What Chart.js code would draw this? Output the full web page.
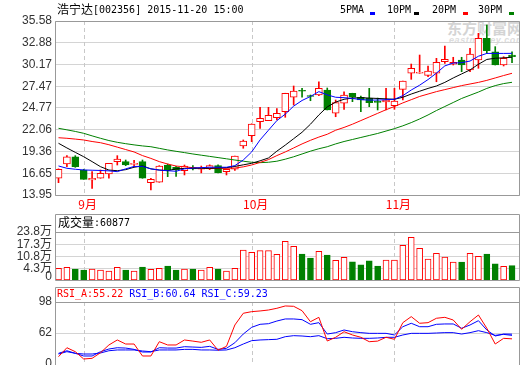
<!DOCTYPE html>
<html><head><meta charset="utf-8">
<script src="https://cdn.jsdelivr.net/npm/chart.js@4/dist/chart.umd.min.js"></script>
<style>
html,body{margin:0;padding:0;background:#fff;}
#wrap{position:relative;width:520px;height:365px;overflow:hidden;background:#fff;}
canvas{position:absolute;left:0;}
.t{position:absolute;white-space:pre;line-height:14px;}
.mono{font-family:'DejaVu Sans Mono',monospace;font-size:10px;}
.cjk{font-family:'Noto Sans CJK SC',sans-serif;font-size:12px;}
.sw{position:absolute;width:5px;height:3px;top:12px;}
</style></head>
<body><div id="wrap">
<div class="t" style="left:447px;top:20px;font:bold 15px 'Noto Sans CJK SC';line-height:15px;color:#d4d4d4;">东方财富网</div>
<div class="t" style="left:449px;top:35px;font:italic bold 9px 'Liberation Sans';line-height:10px;color:#dcdcdc;letter-spacing:0.6px;">eastmoney.com</div>
<canvas id="cMain" width="520" height="212" style="top:0"></canvas>
<canvas id="cVol" width="520" height="100" style="top:200px"></canvas>
<canvas id="cRsi" width="520" height="100" style="top:283px"></canvas>
<div class="t cjk" style="left:57px;top:2px;">浩宁达</div>
<div class="t mono" style="left:93px;top:3px;">[002356] 2015-11-20 15:00</div>
<div class="t mono" style="left:340px;top:3px;">5PMA</div><div class="sw" style="left:370px;background:#0000ff"></div>
<div class="t mono" style="left:387px;top:3px;">10PM</div><div class="sw" style="left:414px;background:#000000"></div>
<div class="t mono" style="left:432px;top:3px;">20PM</div><div class="sw" style="left:463px;background:#ff0000"></div>
<div class="t mono" style="left:478px;top:3px;">30PM</div><div class="sw" style="left:509px;background:#008000"></div>
<div class="t cjk" style="left:58px;top:215px;">成交量</div>
<div id="volHead" class="t mono" style="left:94px;top:216px;"></div>
<div id="rsiHead" class="t mono" style="left:57px;top:287px;"></div>
</div>
<script>
// ---------- data ----------
const dates = ["2015-08-27","2015-08-28","2015-08-31","2015-09-01","2015-09-02","2015-09-07","2015-09-08","2015-09-09","2015-09-10","2015-09-11","2015-09-14","2015-09-15","2015-09-16","2015-09-17","2015-09-18","2015-09-21","2015-09-22","2015-09-23","2015-09-24","2015-09-25","2015-09-28","2015-09-29","2015-09-30","2015-10-08","2015-10-09","2015-10-12","2015-10-13","2015-10-14","2015-10-15","2015-10-16","2015-10-19","2015-10-20","2015-10-21","2015-10-22","2015-10-23","2015-10-26","2015-10-27","2015-10-28","2015-10-29","2015-10-30","2015-11-02","2015-11-03","2015-11-04","2015-11-05","2015-11-06","2015-11-09","2015-11-10","2015-11-11","2015-11-12","2015-11-13","2015-11-16","2015-11-17","2015-11-18","2015-11-19","2015-11-20"];
const opens  = [16.03,17.80,18.71,17.06,15.81,16.03,16.56,18.09,18.09,17.75,18.09,15.48,15.53,17.68,17.40,16.97,17.35,17.15,17.18,17.60,16.85,17.15,20.04,21.32,23.06,23.19,23.56,24.31,26.10,26.95,26.30,26.38,27.00,24.11,25.35,26.59,26.10,25.97,25.60,25.51,25.05,27.09,29.08,29.08,28.83,29.08,30.52,30.20,30.73,29.49,30.73,33.43,31.76,30.11,31.35];
const closes = [17.15,18.71,17.47,15.90,16.03,16.65,17.89,18.42,17.68,17.85,16.03,15.90,17.56,17.06,17.10,17.56,17.20,17.30,17.60,16.72,17.15,18.80,20.66,22.78,23.49,23.86,24.11,26.59,26.88,26.85,26.20,27.21,24.52,25.43,26.38,26.10,25.76,25.43,25.45,25.76,25.64,28.12,29.70,29.20,29.36,30.45,30.82,30.45,30.11,31.48,33.43,31.89,30.11,30.94,31.14];
const highs  = [17.20,18.84,18.84,17.15,16.85,17.06,17.89,18.84,18.30,18.25,18.30,16.03,17.60,17.80,17.50,17.68,17.60,17.55,17.70,17.70,17.20,18.80,20.79,22.80,24.85,24.85,24.68,26.60,27.50,27.21,26.38,28.03,27.25,25.76,26.79,26.60,26.26,27.21,26.00,27.21,27.21,28.12,30.23,31.35,29.99,30.94,32.47,31.07,31.07,32.19,34.05,35.08,32.39,31.14,31.76];
const lows   = [15.48,17.47,17.39,15.90,14.78,16.03,16.03,17.68,17.59,17.45,16.03,14.57,15.53,16.23,16.25,16.44,17.06,16.70,17.10,16.70,16.44,17.00,19.76,20.58,22.24,23.19,23.27,23.61,25.14,26.10,25.67,26.30,24.52,23.68,24.60,25.55,24.31,24.93,24.52,24.52,24.60,25.76,28.33,29.08,28.66,28.03,30.32,30.11,29.28,29.28,29.70,31.56,30.11,29.99,30.40];
const ma5  = [17.56,17.27,17.15,17.06,17.03,17.0,16.95,16.85,17.2,17.5,17.5,17.2,17.05,16.97,16.9,17.2,17.3,17.35,17.4,17.4,17.4,17.6,18.3,19.3,20.8,22.0,23.2,24.0,25.0,25.7,26.2,26.8,26.4,26.1,26.05,25.95,25.8,25.75,25.75,25.8,25.85,26.3,27.0,27.6,28.3,29.1,30.0,30.35,30.4,30.6,31.2,31.55,31.55,31.55,31.56];
const ma10 = [20.38,19.8,19.25,18.71,18.1,17.47,17.05,16.97,17.1,17.4,17.56,17.2,17.05,16.97,17.2,17.25,17.27,17.27,17.27,17.3,17.35,17.5,17.7,17.89,18.2,18.55,19.4,20.15,20.95,21.75,22.75,23.9,24.9,25.5,25.85,26.0,26.05,26.0,25.95,25.9,25.85,26.1,26.5,26.85,27.2,27.5,27.95,28.5,29.0,29.5,30.2,30.8,30.95,31.0,31.07];
const ma20 = [21.07,21.0,20.9,20.79,20.6,20.45,20.2,19.9,19.6,19.3,18.85,18.5,18.1,17.8,17.55,17.45,17.35,17.3,17.27,17.27,17.27,17.3,17.45,17.68,18.0,18.35,18.85,19.3,19.8,20.3,20.75,21.15,21.5,22.0,22.35,22.75,23.2,23.65,24.1,24.55,24.95,25.4,25.8,26.2,26.5,26.8,27.05,27.3,27.55,27.75,27.95,28.2,28.5,28.8,29.08];
const ma30 = [22.24,22.05,21.85,21.62,21.3,21.0,20.72,20.5,20.33,20.18,20.05,19.95,19.75,19.55,19.38,19.22,19.05,18.9,18.75,18.6,18.45,18.3,18.15,18.02,17.97,18.02,18.15,18.4,18.7,19.05,19.4,19.7,19.95,20.3,20.6,20.85,21.1,21.35,21.6,21.9,22.2,22.55,22.95,23.4,23.9,24.45,24.95,25.45,25.95,26.35,26.75,27.2,27.55,27.8,27.96];
// volume in 万 (10k) units
const volumes = [4.67,5.21,4.3,3.77,4.3,3.77,3.23,5.21,3.77,3.23,5.37,4.14,4.67,5.9,3.77,4.3,4.3,3.77,5.21,4.3,3.23,4.67,14.32,13.1,13.95,13.95,12.05,18.9,16.27,12.2,10.1,13.63,11.68,8.89,10.47,8.04,6.44,8.57,5.9,8.95,8.95,16.8,21.0,15.22,9.48,12.58,10.55,7.88,7.88,12.58,10.99,12.2,6.97,5.74,6.0877];
const rsiA = [34.5,44.9,40.3,31.8,32.6,39.1,48.1,53.9,49.2,49.2,35.3,35.3,51.9,48.1,48.1,53.9,52.6,51.2,53.9,42.0,46.5,71.3,84.9,86.8,87.6,88.7,90.7,93.4,93.0,87.9,75.1,80.2,52.7,57.0,63.5,59.7,57.0,51.9,52.6,57.0,54.7,74.0,81.0,73.3,74.0,79.1,80.2,77.1,66.3,75.1,82.9,67.5,49.2,55.8,55.22];
const rsiB = [38.4,41.4,38.4,35.3,35.3,40.3,43.4,44.9,44.5,43.0,39.9,39.9,44.9,44.5,44.5,46.1,45.7,45.3,46.5,43.0,44.2,50.7,60.8,68.6,72.1,72.8,75.9,78.3,78.3,77.5,72.1,74.0,60.8,62.4,65.5,63.5,62.4,61.6,61.6,61.6,59.7,69.3,73.3,69.3,69.3,72.1,72.5,72.5,67.5,71.3,76.3,65.5,58.5,60.8,60.64];
const rsiC = [37.6,40.3,38.4,37.6,37.6,38.8,41.4,42.3,42.3,42.3,41.1,40.3,42.3,42.3,42.3,43.0,43.0,42.3,42.3,42.0,42.3,44.9,49.2,53.1,53.9,54.3,54.7,57.7,58.9,58.5,57.7,58.9,55.4,55.8,57.0,56.2,55.8,55.8,56.2,57.0,57.0,59.7,61.6,61.6,61.6,62.0,62.4,62.4,60.8,62.4,64.7,62.4,59.3,60.4,59.23];
const priceTicks = [13.95,16.65,19.36,22.06,24.77,27.47,30.17,32.88,35.58];
const volTicks = [0,4.3,10.8,17.3,23.8];
const volTickLabels = ['0','4.3万','10.8万','17.3万','23.8万'];
const rsiTicks = [26,62,98];
const rsiTickLabels = ['0','62','98'];

// ---------- derived ----------
const RED='#ff0000', GREEN='#008000';
const idx = dates.map((d,i)=>i);
const up = idx.map(i=>closes[i]>=opens[i]);
const monthText = {};
dates.forEach((d,i)=>{ if(i>0 && d.slice(5,7)!==dates[i-1].slice(5,7)) monthText[i]=parseInt(d.slice(5,7))+'月'; });
const monthIdx = Object.keys(monthText).map(Number);
const xMin=-0.417, xMax=54.95;
const volMin=-1.5;

document.getElementById('volHead').textContent=':'+Math.round(volumes[volumes.length-1]*10000);
const L=rsiA.length-1;
document.getElementById('rsiHead').innerHTML='<span style="color:#ff0000">RSI_A:'+rsiA[L].toFixed(2)+'</span> <span style="color:#0000ff">RSI_B:'+rsiB[L].toFixed(2)+'</span> <span style="color:#0000ff">RSI_C:'+rsiC[L].toFixed(2)+'</span>';

const common = {animation:false, responsive:false, events:[], plugins:{legend:{display:false}, tooltip:{enabled:false}}};
const tickFont = {family:"'Liberation Sans','Noto Sans CJK SC',sans-serif", size:12};
function line(arr,color){return {type:'line',data:idx.map(i=>({x:i,y:arr[i]})),borderColor:color,borderWidth:1,pointRadius:0,tension:0,fill:false};}
function frame(headerH, drawBottom){return {id:'frame',
  beforeDatasetsDraw(chart){
    const {ctx, chartArea:a, scales:{x}} = chart;
    ctx.save(); ctx.strokeStyle='#c8c8c8'; ctx.lineWidth=1; ctx.setLineDash([4,3]);
    monthIdx.forEach(i=>{const px=Math.round(x.getPixelForValue(i))+0.5; ctx.beginPath(); ctx.moveTo(px,a.top); ctx.lineTo(px,a.bottom); ctx.stroke();});
    ctx.restore();
  },
  afterDraw(chart){
    const {ctx, chartArea:a} = chart;
    ctx.save(); ctx.strokeStyle='#999999'; ctx.lineWidth=1;
    const l=Math.round(a.left)+0.5, r=Math.round(a.right)-0.5, t=Math.round(a.top)+0.5, b=Math.round(a.bottom)+0.5, h=t-headerH;
    ctx.beginPath();
    ctx.moveTo(l, drawBottom?b:b+5); ctx.lineTo(l,h); ctx.lineTo(r,h); ctx.lineTo(r, drawBottom?b:b+5);
    if(drawBottom){ctx.lineTo(l,b);}
    if(headerH){ctx.moveTo(l,t); ctx.lineTo(r,t);}
    ctx.stroke(); ctx.restore();
  }};}
const xHidden = {type:'linear', min:xMin, max:xMax, offset:false, display:false};
const yw = s=>{s.width=55;};

new Chart(document.getElementById('cMain'), {
  type:'bar',
  data:{datasets:[
    line(ma5,'#0000ff'), line(ma10,'#000000'), line(ma20,RED), line(ma30,GREEN),
    {type:'bar', data:idx.map(i=>({x:i,y:[opens[i],closes[i]]})), backgroundColor:up.map(u=>u?'#ffffff':GREEN), borderColor:up.map(u=>u?RED:GREEN), borderWidth:1, borderSkipped:false, barThickness:7, grouped:false, minBarLength:1},
    {type:'bar', data:idx.map(i=>({x:i,y:[lows[i],highs[i]]})), backgroundColor:up.map(u=>u?RED:GREEN), borderWidth:0, barThickness:1, grouped:false}
  ]},
  options:{...common, layout:{padding:{top:21,right:0,bottom:0,left:0}, autoPadding:false},
    scales:{
      x:{type:'linear', min:xMin, max:xMax, offset:false, afterFit:s=>{s.height=17;}, afterBuildTicks:s=>{s.ticks=monthIdx.map(v=>({value:v}));},
         ticks:{autoSkip:false, maxRotation:0, padding:2, labelOffset:4, color:RED, font:{family:"'Noto Sans CJK SC',sans-serif", size:12}, callback:v=>monthText[v]||''},
         grid:{display:false, drawTicks:false}, border:{display:false}},
      y:{min:priceTicks[0], max:priceTicks[priceTicks.length-1], afterFit:yw, afterBuildTicks:s=>{s.ticks=priceTicks.map(v=>({value:v}));},
         ticks:{autoSkip:false, padding:3, color:'#333333', font:tickFont, callback:v=>Number(v).toFixed(2)},
         grid:{color:'#d4d4d4', drawTicks:false}, border:{display:false}}
    }},
  plugins:[frame(0,true)]
});

new Chart(document.getElementById('cVol'), {
  type:'bar',
  data:{datasets:[
    {type:'bar', data:idx.map(i=>({x:i,y:volumes[i]})), base:volMin, backgroundColor:up.map(u=>u?'#ffffff':GREEN), borderColor:up.map(u=>u?RED:GREEN), borderWidth:1, borderSkipped:false, barThickness:6, grouped:false}
  ]},
  options:{...common, layout:{padding:{top:32,right:0,bottom:20,left:0}, autoPadding:false},
    scales:{
      x:xHidden,
      y:{min:volMin, max:volTicks[volTicks.length-1], afterFit:yw, afterBuildTicks:s=>{s.ticks=volTicks.map(v=>({value:v}));},
         ticks:{autoSkip:false, padding:3, color:'#333333', font:tickFont, callback:(v,i)=>volTickLabels[i]},
         grid:{color:c=>(c.tick && (c.tick.value===0 || c.tick.value===23.8))?'rgba(0,0,0,0)':'#d4d4d4', drawTicks:false}, border:{display:false}}
    }},
  plugins:[frame(18,true)]
});

new Chart(document.getElementById('cRsi'), {
  type:'line',
  data:{datasets:[ line(rsiA,RED), line(rsiB,'#0000ff'), line(rsiC,'#0000ff') ]},
  options:{...common, layout:{padding:{top:19,right:0,bottom:19,left:0}, autoPadding:false},
    scales:{
      x:xHidden,
      y:{min:rsiTicks[0], max:rsiTicks[rsiTicks.length-1], afterFit:yw, afterBuildTicks:s=>{s.ticks=rsiTicks.map(v=>({value:v}));},
         ticks:{autoSkip:false, padding:3, color:'#333333', font:tickFont, callback:(v,i)=>rsiTickLabels[i]},
         grid:{color:c=>(c.tick && c.tick.value===62)?'#d4d4d4':'rgba(0,0,0,0)', drawTicks:false}, border:{display:false}}
    }},
  plugins:[frame(15,false)]
});
</script>
</body></html>
